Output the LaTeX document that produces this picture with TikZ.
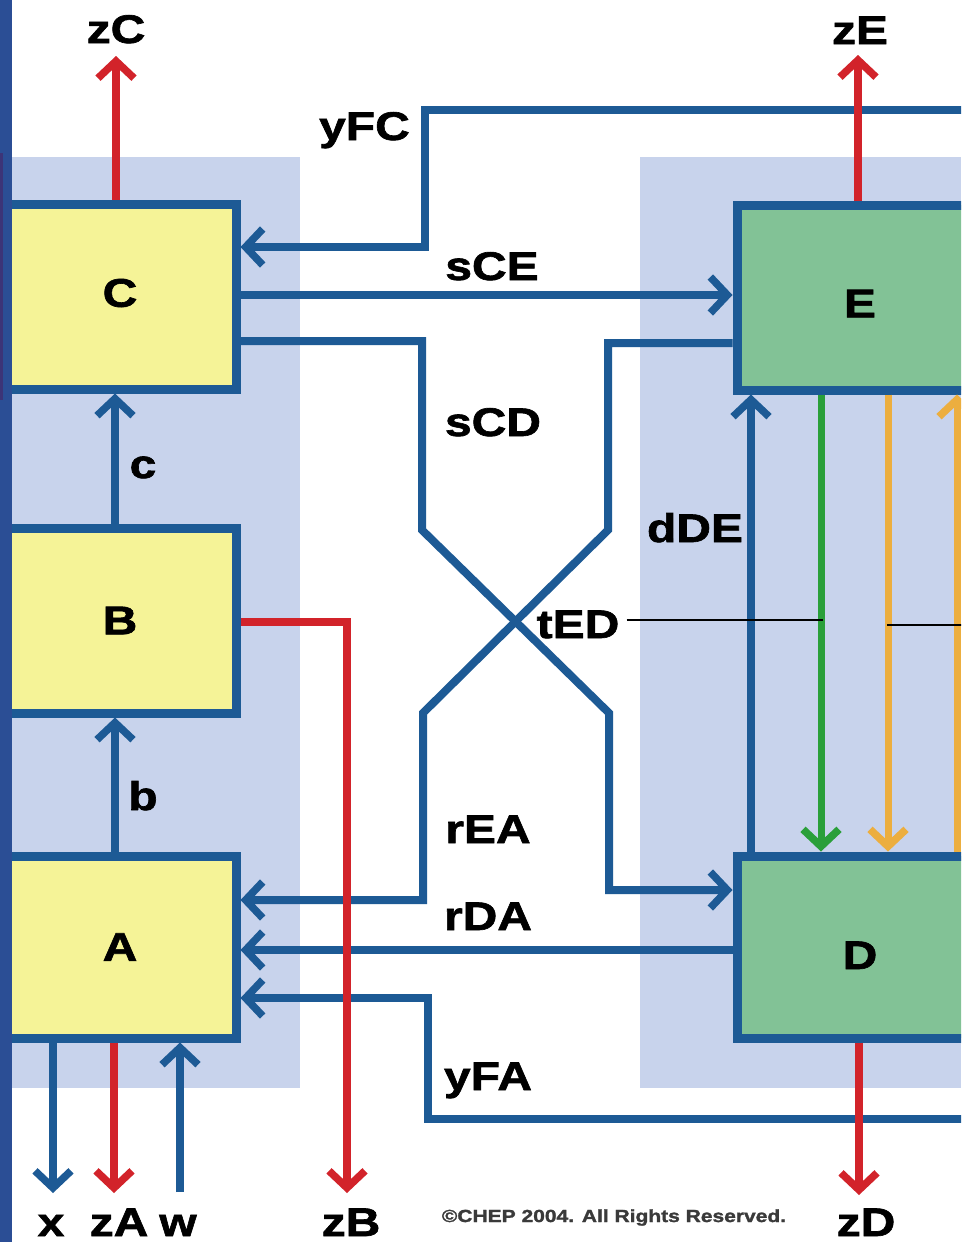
\documentclass[tikz,border=0pt]{standalone}
\usepackage{fontspec}
\setmainfont{Liberation Sans}[FakeStretch=1.2, BoldFeatures={FakeBold=1.6}]
\usetikzlibrary{arrows.meta,calc}
\definecolor{lineblue}{HTML}{1D5A95}
\definecolor{linered}{HTML}{D2232A}
\definecolor{linegreen}{HTML}{2A9F3A}
\definecolor{lineorange}{HTML}{ECAE3F}
\definecolor{panelblue}{HTML}{C8D3EC}
\definecolor{boxyellow}{HTML}{F5F397}
\definecolor{boxgreen}{HTML}{82C296}
\definecolor{stripblue}{HTML}{2B4E95}
\definecolor{strippurple}{HTML}{3C3478}
\definecolor{copygray}{HTML}{3A3A3A}
\newcommand\labfont{\fontsize{40}{40}\selectfont\bfseries}
\begin{document}
\begin{tikzpicture}[x=1pt,y=-1pt,
  line join=miter,
  tipstyle/.style={-{Straight Barb[length=17pt,width=36pt,line width=7.5pt]}},
  basebox/.style={draw=lineblue, line width=9pt, inner sep=0pt, font=\labfont, minimum height=185pt},
  ybox/.style={basebox, fill=boxyellow, minimum width=232pt},
  gbox/.style={basebox, fill=boxgreen, minimum width=246pt},
  barr/.style={draw=lineblue, line width=8pt, tipstyle},
  rarr/.style={draw=linered, line width=8pt, tipstyle},
  garr/.style={draw=linegreen, line width=7pt, tipstyle},
  oarr/.style={draw=lineorange, line width=7pt, tipstyle},
  lab/.style={font=\labfont, inner sep=0pt, anchor=base},
  pointer/.style={draw=black, line width=2pt}]
\useasboundingbox (0,0) rectangle (961,1242);
\clip (0,0) rectangle (961,1242);
\fill[white] (0,0) rectangle (961,1242);
% background panels
\fill[panelblue] (12,157) rectangle (300,1088);
\fill[panelblue] (640,157) rectangle (961,1088);
% boxes
\node[ybox, text height=20.6pt, text depth=0pt] (C) at (120,296.5) {C};
\node[ybox] (B) at (120,620.5) {B};
\node[ybox, minimum height=182pt] (A) at (120,947) {A};
\node[gbox, text height=40pt, text depth=0.4pt] (E) at (860,297.5) {E};
\node[gbox, minimum height=182pt, text height=44pt, text depth=0pt] (D) at (860,947) {D};
% free ends
\coordinate (yFCin) at (975,110);
\coordinate (yFAin) at (975,1119);
\coordinate (xout) at (53,1193);
\coordinate (win) at (180,1192);
\coordinate (zCout) at (116,56);
\coordinate (zEout) at (858,55);
\coordinate (zAout) at (114,1193);
\coordinate (zBout) at (347,1193);
\coordinate (zDout) at (859,1195);
\coordinate (tEDa) at (823,620);
\coordinate (tEDb) at (887,625);
\coordinate (tEDc) at (975,625);
% blue connectors
\draw[barr] (yFCin) -- (425,110) -- (425,247) -- (C.east |- 0,247);
\draw[barr] (C.east |- 0,295) -- (E.west |- 0,295);
\draw[barr] (C.east |- 0,341) -- (422,341) -- (422,530) -- (609,713) -- (609,890) -- (D.west |- 0,890);
\draw[barr] (E.west |- 0,343) -- (608,343) -- (608,530) -- (423,713) -- (423,900) -- (A.east |- 0,900);
\draw[barr] (D.west |- 0,950) -- (A.east |- 0,950);
\draw[barr] (yFAin) -- (428,1119) -- (428,998) -- (A.east |- 0,998);
\draw[barr] (B.north -| 115,0) -- (C.south -| 115,0);
\draw[barr] (A.north -| 115,0) -- (B.south -| 115,0);
\draw[barr] (A.south -| xout) -- (xout);
\draw[barr] (win) -- (A.south -| win);
\draw[barr] (D.north -| 751,0) -- (E.south -| 751,0);
% red outputs
\draw[rarr] (C.north -| zCout) -- (zCout);
\draw[rarr] (E.north -| zEout) -- (zEout);
\draw[rarr] (A.south -| zAout) -- (zAout);
\draw[rarr] (D.south -| zDout) -- (zDout);
\draw[rarr] (B.east |- 0,622) -- (347,622) -- (zBout);
% green / orange
\draw[garr] (E.south -| 821,0) -- (D.north -| 821,0);
\draw[oarr] (E.south -| 888,0) -- (D.north -| 888,0);
\draw[oarr] (D.north -| 957,0) -- (E.south -| 957,0);
% labels
\node[lab] (lzC) at (116,43) {zC};
\node[lab] (lzE) at (860,44) {zE};
\node[lab, anchor=base east] (lyFC) at (410,140) {yFC};
\node[lab] (lsCE) at (492,280) {sCE};
\node[lab] (lsCD) at (493,436) {sCD};
\node[lab] (ldDE) at (695,542) {dDE};
\node[lab] (ltED) at (578,638) {tED};
\node[lab] (lrEA) at (488,843) {rEA};
\node[lab] (lrDA) at (488,930) {rDA};
\node[lab] (lyFA) at (488,1090) {yFA};
\node[lab] (lc) at (143,478) {c};
\node[lab] (lb) at (143,810) {b};
\node[lab] (lx) at (51,1236) {x};
\node[lab] (lzA) at (119,1236) {zA};
\node[lab] (lw) at (178,1236) {w};
\node[lab] (lzB) at (351,1236) {zB};
\node[lab] (lzD) at (866,1236) {zD};
\node[anchor=base, inner sep=0pt, font=\fontsize{17.5}{17.5}\selectfont\bfseries, text=copygray] (copy) at (614,1222) {©CHEP 2004. All Rights Reserved.};
% tED pointers
\draw[pointer, shorten <=7pt] (tEDa -| ltED.east) -- (tEDa);
\draw[pointer] (tEDb) -- (tEDc);
% left edge strip
\fill[stripblue] (0,0) rectangle (12,1242);
\fill[strippurple] (0,153) rectangle (3,400);
\end{tikzpicture}
\end{document}
